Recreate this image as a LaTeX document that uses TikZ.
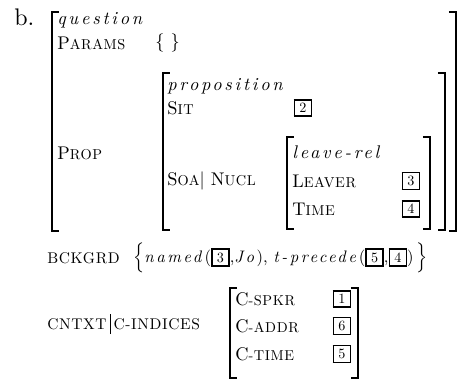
\documentclass[tikz,border=0pt]{standalone}
\usepackage{amsmath}
\usepackage{fontspec}
\setmainfont{lmroman10-regular.otf}[
  ItalicFont=lmroman10-italic.otf,
  ItalicFeatures={LetterSpace=15}]
\newfontfamily\capsfont{lmroman10-regular.otf}[LetterSpace=4]

\newcommand{\tagnum}[1]{{\setlength{\fboxsep}{1.6pt}\setlength{\fboxrule}{1pt}\fbox{\makebox[6pt]{\fontsize{8.5}{10}\selectfont\upshape #1}}}}
\newcommand{\attr}[1]{{\capsfont\fontsize{9.3}{11}\selectfont #1}}
\newcommand{\feat}[2]{{\capsfont #1\fontsize{8.6}{10}\selectfont #2}}
\newcommand{\pbar}{\,\rule[-3pt]{0.5pt}{12pt}\,}

\tikzset{
  lbl/.style={anchor=west, inner sep=0pt},
  brk/.style={line width=1.2pt},
  tagbox/.style={inner sep=0pt}
}

\begin{document}
\begin{tikzpicture}[x=0.6pt,y=-0.6pt,font=\fontsize{11}{13}\selectfont]
\useasboundingbox (0,0) rectangle (458,381);
% nodes

\node[lbl] (ex) at (14,17) {\Large b.};
\node[lbl] (typ) at (57,20) {\textit{question}};
\node[lbl] (params) at (57,43) {\feat{P}{ARAMS}};
\node[lbl] (pval) at (155,43) {$\{\ \}$};
\node[lbl] (prop) at (57,153) {\feat{P}{ROP}};

\node[lbl] (ptyp) at (167,86) {\textit{proposition}};
\node[lbl] (sit) at (167,108) {\feat{S}{IT}};
\node[tagbox] (t2) at (303,108) {\tagnum{2}};
\node[lbl] (soa) at (167,181) {\feat{S}{OA}$|$\ \feat{N}{UCL}};

\node[lbl] (rel) at (292,152) {\textit{leave-rel}};
\node[lbl] (leaver) at (292,181) {\feat{L}{EAVER}};
\node[tagbox] (t3) at (411,181) {\tagnum{3}};
\node[lbl] (time) at (292,209) {\feat{T}{IME}};
\node[tagbox] (t4) at (411,209) {\tagnum{4}};

\node[lbl] (bck) at (47,258) {\attr{BCKGRD}};
\node[lbl,font=\fontsize{10}{12}\selectfont] (bval) at (133,258) {$\Big\{$\textit{named}(\tagnum{3},\textit{Jo}),\ \textit{t-precede}(\tagnum{5},\tagnum{4})\,$\Big\}$};

\node[lbl] (ctx) at (47,324) {\attr{CNTXT}\pbar\attr{C-INDICES}};
\node[lbl] (spkr) at (235,299) {\feat{C}{-SPKR}};
\node[tagbox] (t1) at (342,299) {\tagnum{1}};
\node[lbl] (addr) at (235,326) {\feat{C}{-ADDR}};
\node[tagbox] (t6) at (342,326) {\tagnum{6}};
\node[lbl] (ctime) at (235,354) {\feat{C}{-TIME}};
\node[tagbox] (t5) at (342,354) {\tagnum{5}};

% brackets
\draw[brk] (59,12) -- (52,12) -- (52,231) -- (59,231);
\draw[brk] (449,12) -- (456,12) -- (456,231) -- (449,231);

\draw[brk] (170,73) -- (163,73) -- (163,230) -- (170,230);
\draw[brk] (438,73) -- (445,73) -- (445,230) -- (438,230);

\draw[brk] (294,137) -- (287,137) -- (287,229) -- (294,229);
\draw[brk] (423,137) -- (430,137) -- (430,229) -- (423,229);

\draw[brk] (237,288) -- (230,288) -- (230,378) -- (237,378);
\draw[brk] (351,288) -- (358,288) -- (358,378) -- (351,378);

\end{tikzpicture}
\end{document}
